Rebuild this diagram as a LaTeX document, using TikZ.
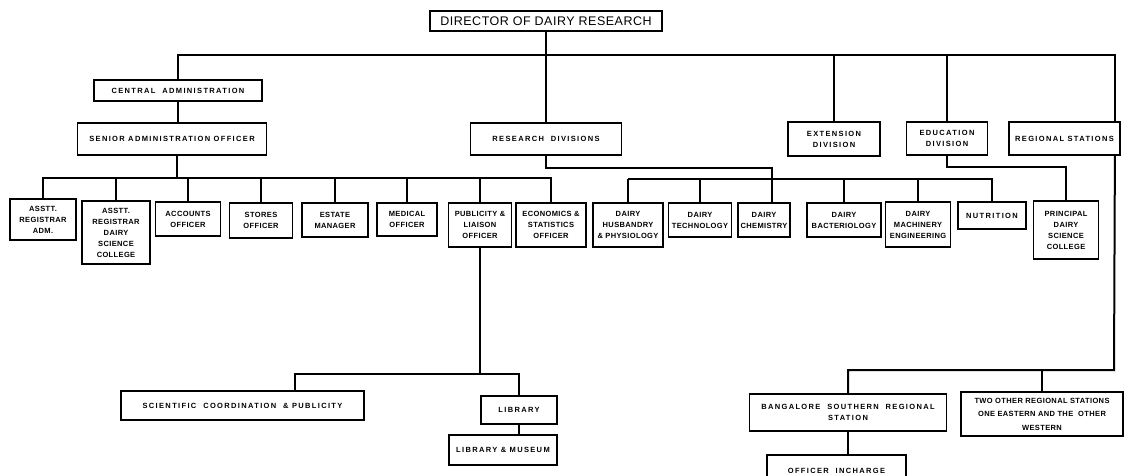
\documentclass[tikz,border=0pt]{standalone}
\usepackage{fontspec}
\newfontfamily\chartfont[LetterSpace=5]{Liberation Sans}
\newfontfamily\chartwide[LetterSpace=18]{Liberation Sans}
\newfontfamily\headfont[LetterSpace=4]{Liberation Sans}
\begin{document}
\begin{tikzpicture}[x=1pt,y=-1pt,
  box/.style={draw, line width=1.8pt, align=center, inner sep=1pt,
    font=\chartfont\bfseries\fontsize{7.5}{11}\selectfont},
  widebox/.style={box, font=\chartwide\bfseries\fontsize{7.5}{11}\selectfont},
  link/.style={draw, line width=2pt}]
\useasboundingbox (0,0) rectangle (1124,475);

\node[box, font=\headfont\fontsize{12.5}{14}\selectfont, minimum width=232, minimum height=20] (director) at (546,21) {DIRECTOR OF DAIRY RESEARCH};

\node[widebox, minimum width=168, minimum height=21] (centraladm) at (178,90.5) {CENTRAL\ \ ADMINISTRATION};
\node[widebox, minimum width=189, minimum height=32] (senioradm) at (172,139) {SENIOR ADMINISTRATION OFFICER};
\node[widebox, minimum width=151, minimum height=32] (research) at (546,139) {RESEARCH\ \ DIVISIONS};
\node[widebox, minimum width=92, minimum height=34] (extension) at (834,139) {EXTENSION\\DIVISION};
\node[widebox, minimum width=81, minimum height=33] (education) at (947,138.5) {EDUCATION\\DIVISION};
\node[widebox, minimum width=111, minimum height=33] (regional) at (1064.5,138.5) {REGIONAL STATIONS};

\node[box, minimum width=66, minimum height=41] (asstadm) at (43,219.5) {ASSTT.\\REGISTRAR\\ADM.};
\node[box, minimum width=68, minimum height=63] (asstdairy) at (116,232.5) {ASSTT.\\REGISTRAR\\DAIRY\\SCIENCE\\COLLEGE};
\node[box, minimum width=65, minimum height=34] (accounts) at (188,219) {ACCOUNTS\\OFFICER};
\node[box, minimum width=63, minimum height=35] (stores) at (261,220.5) {STORES\\OFFICER};
\node[box, minimum width=66, minimum height=34] (estate) at (335,220) {ESTATE\\MANAGER};
\node[box, minimum width=60, minimum height=33] (medical) at (407,219.5) {MEDICAL\\OFFICER};
\node[box, minimum width=63, minimum height=44] (publicity) at (480,225) {PUBLICITY \&\\LIAISON\\OFFICER};
\node[box, minimum width=70, minimum height=44] (economics) at (551,225) {ECONOMICS \&\\STATISTICS\\OFFICER};

\node[box, minimum width=70, minimum height=44] (husbandry) at (628,225) {DAIRY\\HUSBANDRY\\\& PHYSIOLOGY};
\node[box, minimum width=63, minimum height=34] (technology) at (700,220) {DAIRY\\TECHNOLOGY};
\node[box, minimum width=52, minimum height=34] (chemistry) at (764,220) {DAIRY\\CHEMISTRY};
\node[box, minimum width=74, minimum height=34] (bacteriology) at (844,220) {DAIRY\\BACTERIOLOGY};
\node[box, minimum width=65, minimum height=45] (machinery) at (918,224.5) {DAIRY\\MACHINERY\\ENGINEERING};
\node[widebox, minimum width=68, minimum height=27] (nutrition) at (992,215.5) {NUTRITION};
\node[box, minimum width=65, minimum height=58] (principal) at (1066,230) {PRINCIPAL\\DAIRY\\SCIENCE\\COLLEGE};

\node[widebox, minimum width=243, minimum height=29] (scicoord) at (242.5,405.5) {SCIENTIFIC\ \ COORDINATION\ \ \& PUBLICITY};
\node[widebox, minimum width=76, minimum height=28] (library) at (519,410) {LIBRARY};
\node[widebox, minimum width=108, minimum height=30] (libmus) at (503,450) {LIBRARY \& MUSEUM};

\node[widebox, minimum width=197, minimum height=37] (bangalore) at (848,412.5) {BANGALORE\ \ SOUTHERN\ \ REGIONAL\\STATION};
\node[box, font=\chartfont\bfseries\fontsize{7.5}{13.5}\selectfont, minimum width=162, minimum height=44] (twoother) at (1042,414) {TWO OTHER REGIONAL STATIONS\\ONE EASTERN AND THE\ \ OTHER\\WESTERN};
\node[widebox, minimum width=139, minimum height=32] (officer) at (836.5,471) {OFFICER\ \ INCHARGE};

\coordinate (dirbus) at (546,55);
\path[link] (director.south) -- (research.north);
\path[link] (dirbus) -| (centraladm.north);
\path[link] (dirbus) -| (extension.north);
\path[link] (dirbus) -| (education.north);
\path[link] (dirbus) -| ([xshift=-6pt]regional.north east);

\path[link] (centraladm.south) -- (centraladm.south |- senioradm.north);
\coordinate (adminbus) at (177,178);
\path[link] (adminbus |- senioradm.south) -- (adminbus);
\path[link] (adminbus) -| (asstadm.north);
\path[link] (adminbus) -| (asstdairy.north);
\path[link] (adminbus) -| (accounts.north);
\path[link] (adminbus) -| (stores.north);
\path[link] (adminbus) -| (estate.north);
\path[link] (adminbus) -| (medical.north);
\path[link] (adminbus) -| (publicity.north);
\path[link] (adminbus) -| (economics.north);

\path[link] (research.south) -- ++(0,12) -| ([xshift=8pt]chemistry.north);
\coordinate (resbus) at (628,179);
\path[link] (resbus) -| (husbandry.north);
\path[link] (resbus) -| (technology.north);
\path[link] (resbus) -| (bacteriology.north);
\path[link] (resbus) -| (machinery.north);
\path[link] (resbus) -| (nutrition.north);

\path[link] (education.south) -- ++(0,11) -| (principal.north);

\coordinate (regbus) at (1114,370);
\path[link] ([xshift=-6pt]regional.south east) -- (regbus) -| (bangalore.north);
\path[link] (regbus) -| (twoother.north);
\path[link] (bangalore.south) -- (bangalore.south |- officer.north);

\coordinate (pubbus) at (480,374);
\path[link] (publicity.south) -- (pubbus) -| ([xshift=52pt]scicoord.north);
\path[link] (pubbus) -| (library.north);
\path[link] (library.south) -- (library.south |- libmus.north);
\end{tikzpicture}
\end{document}
